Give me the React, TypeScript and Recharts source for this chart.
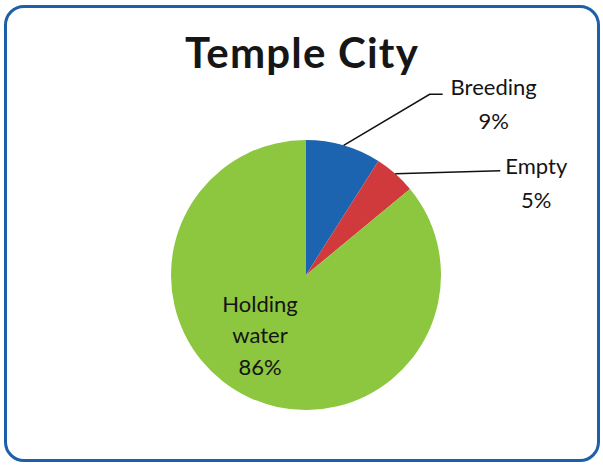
import React from "react";
import { PieChart, Pie, Cell } from "recharts";

const categories = ["Breeding", "Empty", "Holding water"];
const values = [9, 5, 86];
const percentLabels = ["9%", "5%", "86%"];
const colors = ["#1c63b0", "#d13a3c", "#8dc63f"];

const data = categories.map((name, i) => ({ name, value: values[i], color: colors[i] }));

const FONT = "Lato, 'Open Sans', sans-serif";
const RAD = Math.PI / 180;

const renderLabel = (props: any) => {
  const { cx, cy, midAngle, outerRadius, index } = props;
  const sx = cx + outerRadius * Math.cos(-midAngle * RAD);
  const sy = cy + outerRadius * Math.sin(-midAngle * RAD);
  const name = categories[index];
  const pct = percentLabels[index];
  const textStyle = { fontFamily: FONT, fontSize: 22, fill: "#141414" };

  if (index === 0) {
    return (
      <g>
        <polyline
          points={`${sx},${sy} ${sx + 86},${sy - 51} ${sx + 99},${sy - 51}`}
          fill="none"
          stroke="#111"
          strokeWidth={1.5}
        />
        <text x={sx + 150} y={sy - 50} textAnchor="middle" style={textStyle}>{name}</text>
        <text x={sx + 150} y={sy - 16} textAnchor="middle" style={textStyle}>{pct}</text>
      </g>
    );
  }
  if (index === 1) {
    return (
      <g>
        <polyline
          points={`${sx},${sy} ${sx + 105},${sy - 3}`}
          fill="none"
          stroke="#111"
          strokeWidth={1.5}
        />
        <text x={sx + 141} y={sy} textAnchor="middle" style={textStyle}>{name}</text>
        <text x={sx + 141} y={sy + 34} textAnchor="middle" style={textStyle}>{pct}</text>
      </g>
    );
  }
  // Holding water sits inside the slice
  const lx = cx - 46;
  return (
    <g>
      <text x={lx} y={cy + 37} textAnchor="middle" style={textStyle}>Holding</text>
      <text x={lx} y={cy + 68} textAnchor="middle" style={textStyle}>water</text>
      <text x={lx} y={cy + 100} textAnchor="middle" style={textStyle}>{pct}</text>
    </g>
  );
};

export default function App() {
  return (
    <div style={{ position: "absolute", left: 0, top: 0, width: 603, height: 466, background: "#fff" }}>
      <div
        style={{
          position: "absolute",
          left: 4,
          top: 5,
          width: 596,
          height: 457,
          boxSizing: "border-box",
          border: "3px solid #1d5fa8",
          borderRadius: 20,
        }}
      />
      <div style={{ position: "absolute", left: 0, top: 0 }}>
        <PieChart width={603} height={466} margin={{ top: 0, right: 0, bottom: 0, left: 0 }}>
          <text
            x={302}
            y={68}
            textAnchor="middle"
            style={{ fontFamily: FONT, fontSize: 42, fontWeight: 700, fill: "#161616", letterSpacing: 1.2 }}
          >
            Temple City
          </text>
          <Pie
            data={data}
            dataKey="value"
            nameKey="name"
            cx={306}
            cy={275}
            outerRadius={135}
            startAngle={90}
            endAngle={-270}
            stroke="none"
            label={renderLabel}
            labelLine={false}
            isAnimationActive={false}
          >
            {data.map((entry, i) => (
              <Cell key={`cell-${i}`} fill={entry.color} />
            ))}
          </Pie>
        </PieChart>
      </div>
    </div>
  );
}
